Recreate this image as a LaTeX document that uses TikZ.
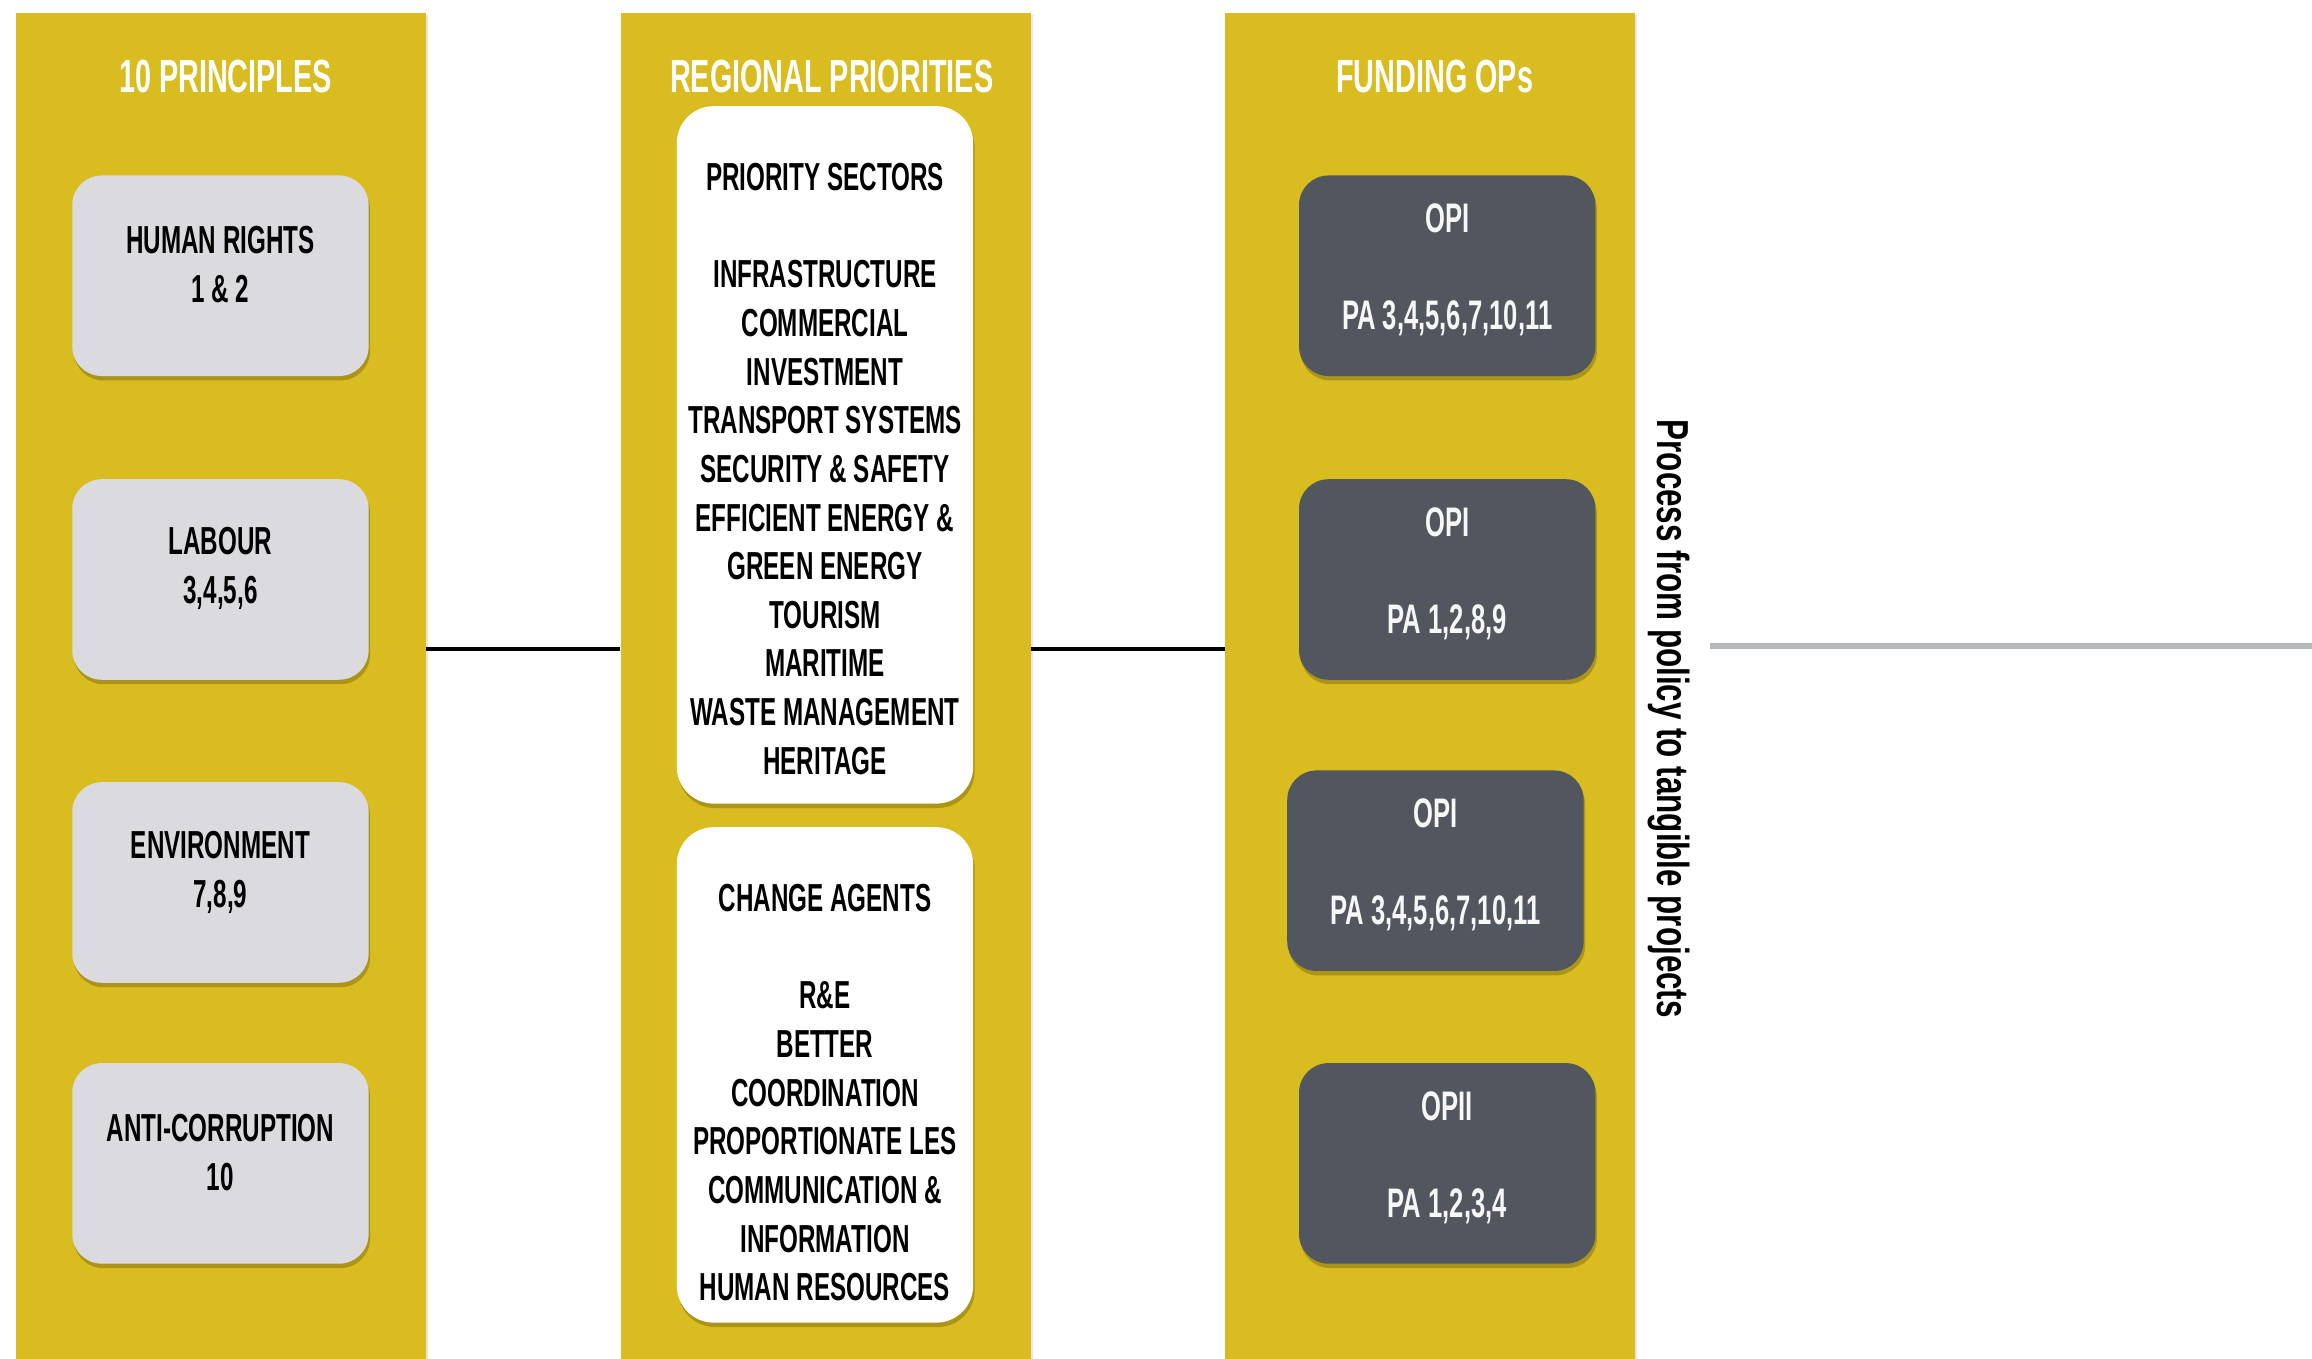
\documentclass[tikz,border=0pt]{standalone}
\usepackage{fontspec}
\usetikzlibrary{positioning,shadows}
\newfontfamily\dinfont{Liberation Sans}[FakeStretch=0.62]
\newfontfamily\narrowfont{Liberation Sans}[FakeStretch=0.70]
\definecolor{mustard}{RGB}{217,188,31}
\definecolor{paleslate}{RGB}{219,219,223}
\definecolor{slate}{RGB}{82,86,94}
\definecolor{railgrey}{RGB}{180,184,184}
\tikzset{
  column/.style = {
    rectangle,
    fill=mustard,
    inner sep=0pt,
    minimum width=278pt,
    minimum height=921pt,
    drop shadow={shadow xshift=1.5pt, shadow yshift=-1pt, opacity=0.2}
  },
  columnhead/.style = {
    anchor=base,
    text=white,
    font=\dinfont\bfseries\fontsize{31.5}{38}\selectfont
  },
  card/.style = {
    rectangle,
    rounded corners=20pt,
    minimum width=201pt,
    minimum height=136pt,
    drop shadow={shadow xshift=1pt, shadow yshift=-3pt, opacity=0.3, fill=black!70!mustard}
  },
  principle/.style = {card, fill=paleslate},
  opcard/.style = {card, fill=slate},
  listcard/.style = {card, fill=white, rounded corners=25pt},
  cardtext/.style = {
    align=center,
    inner sep=0pt,
    font=\dinfont\bfseries\fontsize{26.5}{33}\selectfont
  },
  optext/.style = {
    cardtext,
    text=white!95!slate,
    font=\dinfont\bfseries\fontsize{28}{33}\selectfont
  },
  link/.style = {line width=3pt, black},
  rail/.style = {line width=4pt, railgrey}
}

\begin{document}
\begin{tikzpicture}[x=1pt, y=-1pt]
    \useasboundingbox (0,0) rectangle (1568,921);
    \node[column] (principles) at (150,469.5) {};
    \node[column] (regional) at (560,469.5) {};
    \node[column] (funding) at (970,469.5) {};
    \node[columnhead] (principleshead) at (153,63) {10 PRINCIPLES};
    \node[columnhead] (regionalhead) at (564,63) {REGIONAL PRIORITIES};
    \node[columnhead] (fundinghead) at (973,63) {FUNDING OPs};

    \node[principle] (rights) at (149.5,187) {};
    \node[principle] (labour) at (149.5,393) {};
    \node[principle] (environment) at (149.5,598.5) {};
    \node[principle] (corruption) at (149.5,789) {};
    \node[cardtext] (rightstext) at (149.5,179.5) {HUMAN RIGHTS\\1 \& 2};
    \node[cardtext] (labourtext) at (149.5,385.5) {LABOUR\\3,4,5,6};
    \node[cardtext] (environmenttext) at (149.5,591.5) {ENVIRONMENT\\7,8,9};
    \node[cardtext] (corruptiontext) at (149.5,781.5) {ANTI-CORRUPTION\\10};

    \node[listcard, minimum height=473pt] (sectors) at (559.5,308.5) {};
    \node[listcard, minimum height=336pt] (agents) at (559.5,729) {};
    \node[cardtext] (sectorstext) at (559.5,318) {PRIORITY SECTORS\\[33pt]INFRASTRUCTURE\\COMMERCIAL\\INVESTMENT\\TRANSPORT SYSTEMS\\SECURITY \& SAFETY\\EFFICIENT ENERGY \&\\GREEN ENERGY\\TOURISM\\MARITIME\\WASTE MANAGEMENT\\HERITAGE};
    \node[cardtext] (agentstext) at (559.5,741) {CHANGE AGENTS\\[33pt]R\&E\\BETTER\\COORDINATION\\PROPORTIONATE LES\\COMMUNICATION \&\\INFORMATION\\HUMAN RESOURCES};

    \node[opcard] (opa) at (981.5,187) {};
    \node[opcard] (opb) at (981.5,393) {};
    \node[opcard] (opc) at (973.5,590.5) {};
    \node[opcard] (opd) at (981.5,789) {};
    \node[optext] (opatext) at (981.5,183) {OPI\\[33pt]PA 3,4,5,6,7,10,11};
    \node[optext] (opbtext) at (981.5,389) {OPI\\[33pt]PA 1,2,8,9};
    \node[optext] (opctext) at (973.5,586.5) {OPI\\[33pt]PA 3,4,5,6,7,10,11};
    \node[optext] (opdtext) at (981.5,785) {OPII\\[33pt]PA 1,2,3,4};

    \node[rotate=-90, inner sep=0pt, font=\narrowfont\bfseries\fontsize{30.4}{36}\selectfont] (process) at (1132,487.5) {Process from policy to tangible projects};

    \coordinate (spine) at (0,440);
    \coordinate (rim) at (1568,438);
    \draw[link] (principles.east |- spine) -- (regional.west |- spine);
    \draw[link] (regional.east |- spine) -- (funding.west |- spine);
    \draw[rail] (process.north |- rim) ++(13,0) -- (rim);
  \end{tikzpicture}
\end{document}
